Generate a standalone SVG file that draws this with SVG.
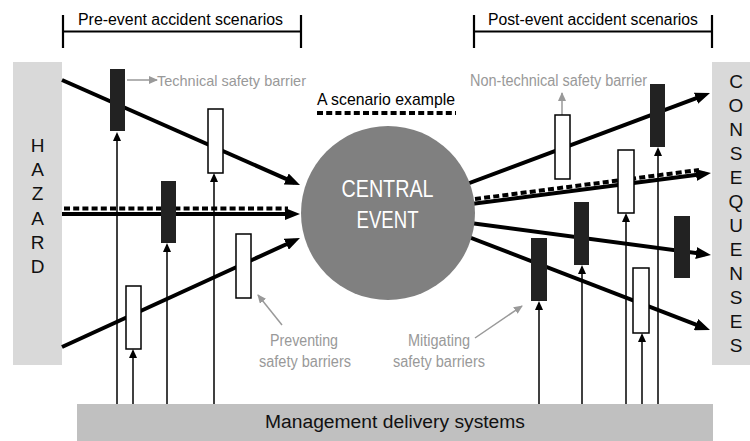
<svg xmlns="http://www.w3.org/2000/svg" width="750" height="441" viewBox="0 0 750 441">
<style>
text{font-family:"Liberation Sans",Arial,sans-serif;}
.lbl{font-size:16px;fill:#000;}
.gray{font-size:16px;fill:#999;}
.side{font-size:19px;fill:#111;text-anchor:middle;}
.main{stroke:#000;stroke-width:4;fill:none;}
.dot{stroke:#000;stroke-width:4;fill:none;stroke-dasharray:6 3.2;}
.thin{stroke:#000;stroke-width:1.5;fill:none;}
.garrow{stroke:#999;stroke-width:1.5;fill:none;}
.brk{stroke:#000;stroke-width:2.2;fill:none;}
.bk{fill:#222;}
.wh{fill:#fff;stroke:#000;stroke-width:1.5;}
</style>
<defs>
<marker id="ah" markerWidth="15" markerHeight="12" refX="9" refY="6" orient="auto" markerUnits="userSpaceOnUse"><path d="M0,0 L15,6 L0,12 z" fill="#000"/></marker>
<marker id="as" markerWidth="9" markerHeight="8" refX="7" refY="4" orient="auto" markerUnits="userSpaceOnUse"><path d="M0,0 L9,4 L0,8 z" fill="#000"/></marker>
<marker id="ag" markerWidth="9" markerHeight="8" refX="8" refY="4" orient="auto" markerUnits="userSpaceOnUse"><path d="M0,0 L9,4 L0,8 z" fill="#999"/></marker>
</defs>
<rect width="750" height="441" fill="#fff"/>

<g id="pre-bracket">
<path class="brk" d="M63,15 V48 M63,31.5 H301 M301,15 V48"/>
<text class="lbl" x="78" y="24.5" textLength="205" lengthAdjust="spacingAndGlyphs">Pre-event accident scenarios</text>
</g>
<g id="post-bracket">
<path class="brk" d="M474,15 V48 M474,31.5 H712 M712,15 V48"/>
<text class="lbl" x="488" y="24.5" textLength="210" lengthAdjust="spacingAndGlyphs">Post-event accident scenarios</text>
</g>

<g id="hazard">
<rect x="13" y="62" width="49" height="303" fill="#d9d9d9"/>
<text class="side" x="37.5" y="152">H</text>
<text class="side" x="37.5" y="176.2">A</text>
<text class="side" x="37.5" y="200.4">Z</text>
<text class="side" x="37.5" y="224.6">A</text>
<text class="side" x="37.5" y="248.8">R</text>
<text class="side" x="37.5" y="273">D</text>
</g>
<g id="consequences">
<rect x="712" y="62" width="38" height="303" fill="#d9d9d9"/>
<text class="side" x="736" y="87.5">C</text>
<text class="side" x="736" y="111.5">O</text>
<text class="side" x="736" y="135.5">N</text>
<text class="side" x="736" y="159.5">S</text>
<text class="side" x="736" y="183.5">E</text>
<text class="side" x="736" y="207.5">Q</text>
<text class="side" x="736" y="231.5">U</text>
<text class="side" x="736" y="255.5">E</text>
<text class="side" x="736" y="279.5">N</text>
<text class="side" x="736" y="303.5">S</text>
<text class="side" x="736" y="327.5">E</text>
<text class="side" x="736" y="351.5">S</text>
</g>
<g id="management">
<rect x="77" y="404" width="636" height="37" fill="#c0c0c0"/>
<text x="265" y="427.5" font-size="18" fill="#111" textLength="260" lengthAdjust="spacingAndGlyphs">Management delivery systems</text>
</g>

<g id="connectors">
<!-- pre-event scenarios -->
<line class="main" x1="62" y1="80" x2="294.5" y2="182.6" marker-end="url(#ah)"/>
<line class="dot" x1="64" y1="208.5" x2="288" y2="208.5"/>
<line class="main" x1="62" y1="214" x2="294" y2="214" marker-end="url(#ah)"/>
<line class="main" x1="62" y1="347" x2="294.5" y2="240.5" marker-end="url(#ah)"/>
<!-- post-event scenarios -->
<line class="main" x1="440" y1="194" x2="704.4" y2="95.1" marker-end="url(#ah)"/>
<line class="dot" x1="475" y1="199" x2="699" y2="170"/>
<line class="main" x1="440" y1="208" x2="705" y2="173.8" marker-end="url(#ah)"/>
<line class="main" x1="440" y1="219" x2="705" y2="254.2" marker-end="url(#ah)"/>
<line class="main" x1="440" y1="226" x2="704.4" y2="327.8" marker-end="url(#ah)"/>
<!-- management support lines -->
<line class="thin" x1="117" y1="404" x2="117" y2="134" marker-end="url(#as)"/>
<line class="thin" x1="133" y1="404" x2="133" y2="351" marker-end="url(#as)"/>
<line class="thin" x1="167" y1="404" x2="167" y2="245" marker-end="url(#as)"/>
<line class="thin" x1="214" y1="404" x2="214" y2="175" marker-end="url(#as)"/>
<line class="thin" x1="539" y1="404" x2="539" y2="303" marker-end="url(#as)"/>
<line class="thin" x1="582" y1="404" x2="582" y2="267" marker-end="url(#as)"/>
<line class="thin" x1="626" y1="404" x2="626" y2="215" marker-end="url(#as)"/>
<line class="thin" x1="642" y1="404" x2="642" y2="335" marker-end="url(#as)"/>
<line class="thin" x1="658" y1="404" x2="658" y2="149" marker-end="url(#as)"/>
<!-- annotation arrows -->
<line class="garrow" x1="127" y1="80" x2="157" y2="80" marker-end="url(#ag)"/>
<line class="garrow" x1="562" y1="115" x2="562" y2="93" marker-end="url(#ag)"/>
<line class="garrow" x1="282" y1="325" x2="258" y2="295" marker-end="url(#ag)"/>
<line class="garrow" x1="475" y1="338" x2="522" y2="306" marker-end="url(#ag)"/>
</g>

<g id="central-event">
<circle cx="388" cy="213" r="87" fill="#808080"/>
<text x="387.5" y="197" font-size="23" fill="#fff" text-anchor="middle" textLength="92" lengthAdjust="spacingAndGlyphs">CENTRAL</text>
<text x="387.5" y="227.7" font-size="23" fill="#fff" text-anchor="middle" textLength="62" lengthAdjust="spacingAndGlyphs">EVENT</text>
</g>

<g id="barrier-pre-1"><rect class="bk" x="110" y="69" width="15" height="62"/></g>
<g id="barrier-pre-2"><rect class="wh" x="208" y="109" width="15" height="64"/></g>
<g id="barrier-pre-3"><rect class="bk" x="161" y="181" width="15" height="62"/></g>
<g id="barrier-pre-4"><rect class="wh" x="236" y="234" width="15" height="64"/></g>
<g id="barrier-pre-5"><rect class="wh" x="126" y="286" width="15" height="63"/></g>

<g id="barrier-post-1"><rect class="bk" x="650" y="84" width="15" height="63"/></g>
<g id="barrier-post-2"><rect class="wh" x="555" y="115" width="15" height="64"/></g>
<g id="barrier-post-3"><rect class="wh" x="618" y="150" width="16" height="63"/></g>
<g id="barrier-post-4"><rect class="bk" x="574" y="202" width="15" height="63"/></g>
<g id="barrier-post-5"><rect class="bk" x="674" y="216" width="16" height="62"/></g>
<g id="barrier-post-6"><rect class="bk" x="531" y="238" width="16" height="63"/></g>
<g id="barrier-post-7"><rect class="wh" x="633" y="268" width="16" height="65"/></g>

<g id="label-technical">
<text class="gray" x="157" y="85.5" style="font-size:15px" textLength="149" lengthAdjust="spacingAndGlyphs">Technical safety barrier</text>
</g>
<g id="label-nontechnical">
<text class="gray" x="470" y="86" textLength="177" lengthAdjust="spacingAndGlyphs">Non-technical safety barrier</text>
</g>
<g id="label-scenario">
<text x="317" y="105" font-size="17" fill="#000" textLength="138" lengthAdjust="spacingAndGlyphs">A scenario example</text>
<line class="dot" x1="317" y1="113" x2="456" y2="113"/>
</g>
<g id="label-preventing">
<text class="gray" x="304" y="346" text-anchor="middle" textLength="68" lengthAdjust="spacingAndGlyphs">Preventing</text>
<text class="gray" x="305" y="367" text-anchor="middle" textLength="92" lengthAdjust="spacingAndGlyphs">safety barriers</text>
</g>
<g id="label-mitigating">
<text class="gray" x="439" y="346" text-anchor="middle" textLength="62" lengthAdjust="spacingAndGlyphs">Mitigating</text>
<text class="gray" x="439" y="367" text-anchor="middle" textLength="92" lengthAdjust="spacingAndGlyphs">safety barriers</text>
</g>
</svg>
